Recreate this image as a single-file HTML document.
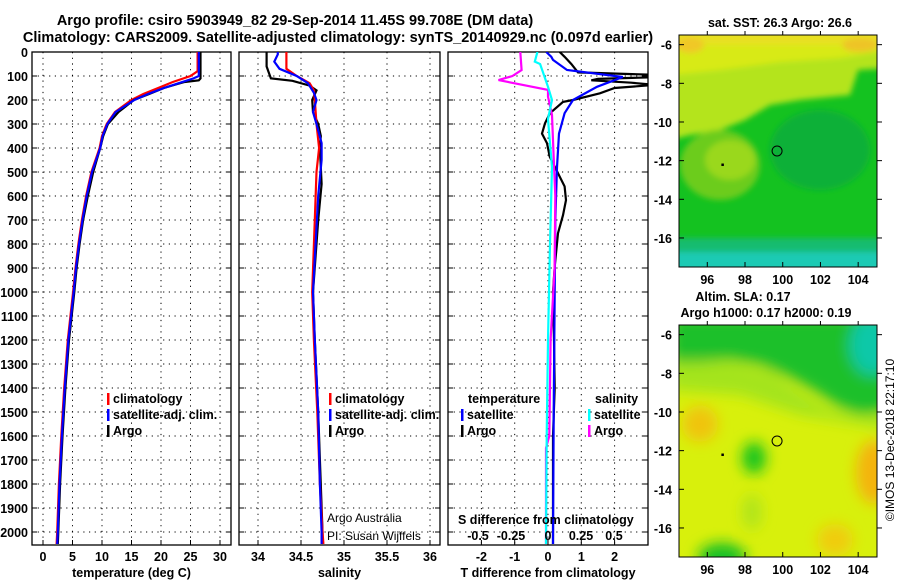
<!DOCTYPE html>
<html><head><meta charset="utf-8"><style>
html,body{margin:0;padding:0;background:#fff;}
svg{display:block;font-family:"Liberation Sans",sans-serif;}
.b{font-weight:bold;font-size:12.5px;}
.t{font-weight:bold;font-size:14.5px;}
</style></head><body>
<svg id="fig" width="900" height="580" viewBox="0 0 900 580" xmlns="http://www.w3.org/2000/svg">
<defs>
<filter id="bl1" x="-50%" y="-50%" width="200%" height="200%"><feGaussianBlur stdDeviation="7"/></filter>
<filter id="bl2" x="-50%" y="-50%" width="200%" height="200%"><feGaussianBlur stdDeviation="3"/></filter>
<clipPath id="cp1"><rect x="32" y="52" width="199" height="493"/></clipPath>
<clipPath id="cp2"><rect x="239" y="52" width="201" height="493"/></clipPath>
<clipPath id="cp3"><rect x="448" y="52" width="200" height="493"/></clipPath>
<clipPath id="cm1"><rect x="679" y="35" width="198" height="232"/></clipPath>
<clipPath id="cm2"><rect x="679" y="325" width="198" height="232"/></clipPath>
</defs>
<text class="t" x="295" y="25" text-anchor="middle">Argo profile: csiro 5903949_82 29-Sep-2014 11.45S 99.708E (DM data)</text>
<text class="t" x="338" y="42" text-anchor="middle">Climatology: CARS2009. Satellite-adjusted climatology: synTS_20140929.nc (0.097d earlier)</text>

<!-- top map -->
<g clip-path="url(#cm1)">
<rect x="679" y="35" width="198" height="232" fill="#14c220"/>
<g filter="url(#bl2)">
<path d="M670 25 L890 25 L890 68 L858 70 L850 95 L800 100 L770 105 L745 120 L720 130 L690 135 L670 140 Z" fill="#b4e41c"/>
<path d="M670 25 L890 25 L890 50 L840 58 L780 62 L720 70 L670 75 Z" fill="#d8ea16"/>
<path d="M670 30 L890 30 L890 45 L670 45 Z" fill="#e8e020"/>
<ellipse cx="690" cy="45" rx="14" ry="8" fill="#f0c828"/>
<ellipse cx="860" cy="45" rx="18" ry="7" fill="#eec428"/>
<ellipse cx="720" cy="165" rx="40" ry="35" fill="#6ccc1c"/>
<ellipse cx="730" cy="160" rx="25" ry="20" fill="#9ad81e"/>
<ellipse cx="820" cy="150" rx="50" ry="40" fill="#10b038"/>
<rect x="670" y="250" width="220" height="25" fill="#1ccab4"/>
<rect x="670" y="238" width="220" height="14" fill="#16bc70"/>
</g>
</g>
<rect x="679" y="35" width="198" height="232" fill="none" stroke="#000"/>
<text class="b" x="780" y="27" text-anchor="middle">sat. SST: 26.3 Argo: 26.6</text>

<!-- bottom map -->
<g clip-path="url(#cm2)">
<rect x="679" y="325" width="198" height="232" fill="#d8f00c"/>
<g filter="url(#bl1)">
<path d="M670 315 L890 315 L890 412 L860 415 L840 408 L815 392 L790 378 L760 365 L730 360 L700 362 L670 365 Z" fill="#1ec02c"/>
<path d="M670 362 L730 362 L770 372 L800 392 L830 410 L860 418 L890 415 L890 430 L800 415 L740 395 L670 390 Z" fill="#a4e41a"/>
<ellipse cx="872" cy="345" rx="22" ry="30" fill="#10c8a8"/>
<ellipse cx="700" cy="424" rx="18" ry="18" fill="#f0c40e"/>
<ellipse cx="874" cy="472" rx="18" ry="32" fill="#f4b40c"/>
<ellipse cx="835" cy="540" rx="18" ry="16" fill="#f0cc10"/>
<ellipse cx="754" cy="458" rx="12" ry="16" fill="#14c41e"/>
<ellipse cx="722" cy="557" rx="24" ry="14" fill="#18c028"/>
<ellipse cx="752" cy="512" rx="10" ry="18" fill="#b0e41a"/>
</g>
</g>
<rect x="679" y="325" width="198" height="232" fill="none" stroke="#000"/>
<text class="b" x="743" y="301" text-anchor="middle">Altim. SLA: 0.17</text>
<text class="b" x="766" y="317" text-anchor="middle">Argo h1000: 0.17 h2000: 0.19</text>
<text x="894" y="440" font-size="12" text-anchor="middle" transform="rotate(-90 894 440)">©IMOS 13-Dec-2018 22:17:10</text>

<g id="plots"></g>
</svg>
<script>
// ---------- data ----------
const depthTicks=[0,100,200,300,400,500,600,700,800,900,1000,1100,1200,1300,1400,1500,1600,1700,1800,1900,2000];
const tempTicks=[0,5,10,15,20,25,30];
const salTicks=[34,34.5,35,35.5,36];
const tdTicks=[-2,-1,0,1,2];
const sdTicks=[-0.5,-0.25,0,0.25,0.5];
const sdTickLabels=["-0.5","-0.25","0","0.25","0.5"];
const lonTicks=[96,98,100,102,104];
const latTicks=[-6,-8,-10,-12,-14,-16];

const tArgoD=[0,110,118,125,135,150,175,200,250,300,350,400,500,600,700,800,900,1000,1200,1400,1600,1800,2000,2050];
const tArgoV=[26.7,26.7,26.4,24,22.5,20.5,18,15.4,12.8,11,10.2,9.7,8.5,7.6,6.8,6.2,5.7,5.3,4.4,3.8,3.3,2.9,2.6,2.5];
const tClimD=[0,80,100,125,150,175,200,250,300,350,400,500,600,700,800,900,1000,1200,1400,1600,1800,2000,2050];
const tClimV=[26.2,26.2,25,22,19.5,17,15,12.2,10.8,10,9.6,8.2,7.3,6.6,6,5.5,5.1,4.2,3.6,3.1,2.7,2.4,2.3];
const tSatD=[0,100,110,130,150,175,200,250,300,350,400,500,600,700,800,900,1000,1200,1400,1600,1800,2000,2050];
const tSatV=[26.4,26.4,25.5,23,20.5,17.8,15.5,12.3,10.9,10.1,9.7,8.3,7.4,6.7,6.1,5.6,5.2,4.3,3.7,3.2,2.8,2.5,2.4];

const sArgoD=[0,60,80,110,120,140,160,200,250,300,350,400,550,700,850,1000,1200,1500,1700,2000,2050];
const sArgoV=[34.10,34.10,34.12,34.15,34.4,34.6,34.68,34.63,34.64,34.70,34.73,34.72,34.74,34.70,34.67,34.64,34.66,34.70,34.72,34.75,34.75];
const sClimD=[0,70,100,130,160,200,300,400,500,700,1000,1200,1500,1800,2000,2050];
const sClimV=[34.33,34.33,34.45,34.6,34.65,34.66,34.68,34.71,34.68,34.66,34.63,34.65,34.69,34.72,34.75,34.76];
const sSatD=[0,10,40,70,100,130,170,200,250,300,380,450,600,800,1000,1200,1500,1800,2000,2050];
const sSatV=[34.23,34.23,34.19,34.25,34.45,34.58,34.65,34.68,34.64,34.68,34.74,34.74,34.70,34.67,34.64,34.66,34.70,34.72,34.74,34.74];

const tdArgoD=[0,20,50,85,95,105,112,118,128,137,150,172,200,208,255,297,340,380,436,505,560,617,680,755,895,1000,1200,1400,1600,1800,2050];
const tdArgoV=[0.35,0.5,0.7,0.9,3.2,3.2,1.5,1.3,2.5,3.2,2.0,1.56,0.75,0.45,0.06,-0.09,-0.18,-0.03,0.05,0.3,0.5,0.54,0.45,0.3,0.2,0.15,0.18,0.2,0.15,0.15,0.15];
const tdSatD=[0,20,33,75,104,145,200,255,340,480,700,1000,1500,2050];
const tdSatV=[-0.05,0.1,0.15,0.57,2.25,1.47,0.75,0.5,0.33,0.27,0.22,0.2,0.17,0.15];
const sdArgoD=[0,75,100,117,137,158,186,262,400,600,900,1200,1600,1650,2050];
const sdArgoV=[-0.21,-0.2,-0.27,-0.375,-0.19,0,0,0.03,0.04,0.055,0.05,0.02,0.01,-0.015,-0.015];
const sdSatD=[0,40,50,145,200,280,480,800,1200,1600,2050];
const sdSatV=[-0.08,-0.1,-0.06,0,0.03,0,0.03,0.015,0,-0.01,-0.015];

const argoLon=99.7, argoLat=-11.5;

// ---------- scales ----------
const Y=d=>52+d*0.24;
const xT=v=>43+v*5.9;
const xS=v=>258+(v-34)*86;
const xTD=v=>548+v*33.3;
const xSD=v=>548+v*132;
const mx=v=>679+(v-94.5)*18.86;
const my1=v=>35+(-5.5-v)*19.33;
const my2=v=>325+(-5.5-v)*19.33;

const NS='http://www.w3.org/2000/svg';
const root=document.getElementById('plots');
function mk(tag,attrs,parent){const e=document.createElementNS(NS,tag);for(const k in attrs)e.setAttribute(k,attrs[k]);(parent||root).appendChild(e);return e;}
function txt(s,x,y,anchor,cls,name){const e=mk('text',{x:x,y:y,'text-anchor':anchor||'start'});if(cls)e.setAttribute('class',cls);e.textContent=s;


return e;}

function panel(x0,x1,ticks,xs,labels,title,clip,pname){
  const g=mk('g',{});
  
  
  ticks.forEach((t,i)=>{const l=mk('line',{x1:xs(t),x2:xs(t),y1:52,y2:545,stroke:'#000','stroke-dasharray':'1.2,4.5'},g);
    
    
    const tk=mk('line',{x1:xs(t),x2:xs(t),y1:545,y2:540,stroke:'#000'},g);
    
    
    g.appendChild(txt(labels?labels[i]:String(t),xs(t),561,'middle','b','x-tick-label'));});
  depthTicks.forEach(d=>{const l=mk('line',{x1:x0,x2:x1,y1:Y(d),y2:Y(d),stroke:'#000','stroke-dasharray':'1.2,4.5'},g);
    
    
    mk('line',{x1:x0,x2:x0+5,y1:Y(d),y2:Y(d),stroke:'#000'},g);
    mk('line',{x1:x1,x2:x1-5,y1:Y(d),y2:Y(d),stroke:'#000'},g);});
  const fr=mk('rect',{x:x0,y:52,width:x1-x0,height:493,fill:'none',stroke:'#000','stroke-width':1.3},g);
  
  
  g.appendChild(txt(title,(x0+x1)/2,577,'middle','b','x-axis-title'));
  return g;
}
function line(D,V,xs,color,clip,name){
  const pts=D.map((d,i)=>xs(V[i]).toFixed(1)+','+Y(d).toFixed(1)).join(' ');
  const p=mk('polyline',{points:pts,fill:'none',stroke:color,'stroke-width':2.2,'clip-path':clip});
  
  
}
function legend(x,y,color,label,name){
  const r=mk('rect',{x:x,y:y-10,width:2.5,height:12,fill:color});
  
  
  txt(label,x+6,y,'start','b',name);
}

depthTicks.forEach(d=>txt(String(d),28,Y(d)+5,'end','b','depth-tick-label'));

panel(32,231,tempTicks,xT,null,'temperature (deg C)','url(#cp1)','temperature-panel');
panel(239,440,salTicks,xS,null,'salinity','url(#cp2)','salinity-panel');
panel(448,648,tdTicks,xTD,null,'T difference from climatology','url(#cp3)','difference-panel');

line(tClimD,tClimV,xT,'#f00','url(#cp1)','temp-climatology-line');
line(tArgoD,tArgoV,xT,'#000','url(#cp1)','temp-argo-line');
line(tSatD,tSatV,xT,'#00f','url(#cp1)','temp-satellite-line');

line(sArgoD,sArgoV,xS,'#000','url(#cp2)','sal-argo-line');
line(sClimD,sClimV,xS,'#f00','url(#cp2)','sal-climatology-line');
line(sSatD,sSatV,xS,'#00f','url(#cp2)','sal-satellite-line');

line(tdArgoD,tdArgoV,xTD,'#000','url(#cp3)','tdiff-argo-line');
line(tdSatD,tdSatV,xTD,'#00f','url(#cp3)','tdiff-satellite-line');
line(sdArgoD,sdArgoV,xSD,'#f0f','url(#cp3)','sdiff-argo-line');
line(sdSatD,sdSatV,xSD,'#0ff','url(#cp3)','sdiff-satellite-line');

legend(107,403,'#f00','climatology','legend-temp-climatology');
legend(107,419,'#00f','satellite-adj. clim.','legend-temp-satellite');
legend(107,435,'#000','Argo','legend-temp-argo');
legend(329,403,'#f00','climatology','legend-sal-climatology');
legend(329,419,'#00f','satellite-adj. clim.','legend-sal-satellite');
legend(329,435,'#000','Argo','legend-sal-argo');
txt('temperature',468,403,'start','b','legend-temperature-heading');
txt('salinity',595,403,'start','b','legend-salinity-heading');
legend(461,419,'#00f','satellite','legend-tdiff-satellite');
legend(461,435,'#000','Argo','legend-tdiff-argo');
legend(588,419,'#0ff','satellite','legend-sdiff-satellite');
legend(588,435,'#f0f','Argo','legend-sdiff-argo');

let a=txt('Argo Australia',327,522,'start',null,'credit-argo-australia');a.setAttribute('font-size','12');
a=txt('PI: Susan Wijffels',327,540,'start',null,'credit-pi');a.setAttribute('font-size','12');
txt('S difference from climatology',458,524,'start','b','s-diff-axis-title');
sdTicks.forEach((t,i)=>txt(sdTickLabels[i],xSD(t)-(t<0?4:0),540,'middle','b','s-diff-tick-label'));

function mapAxes(my,top,bottom,name){
  lonTicks.forEach(l=>{mk('line',{x1:mx(l),x2:mx(l),y1:bottom,y2:bottom-5,stroke:'#000'});
    mk('line',{x1:mx(l),x2:mx(l),y1:top,y2:top-4,stroke:'#000'});
    txt(String(l),mx(l),bottom+17,'middle','b',name+'-lon-label');});
  latTicks.forEach(l=>{mk('line',{x1:679,x2:684,y1:my(l),y2:my(l),stroke:'#000'});
    mk('line',{x1:877,x2:882,y1:my(l),y2:my(l),stroke:'#000'});
    txt(String(l),672,my(l)+5,'end','b',name+'-lat-label');});
  const c=mk('circle',{cx:mx(argoLon),cy:my(argoLat),r:5,fill:'none',stroke:'#000'});
  
  
  mk('rect',{x:mx(96.8)-1,y:my(-12.2)-1,width:2.5,height:2.5,fill:'#000'});
}
mapAxes(my1,35,267,'sst-map');
mapAxes(my2,325,557,'sla-map');
</script>
</body></html>
